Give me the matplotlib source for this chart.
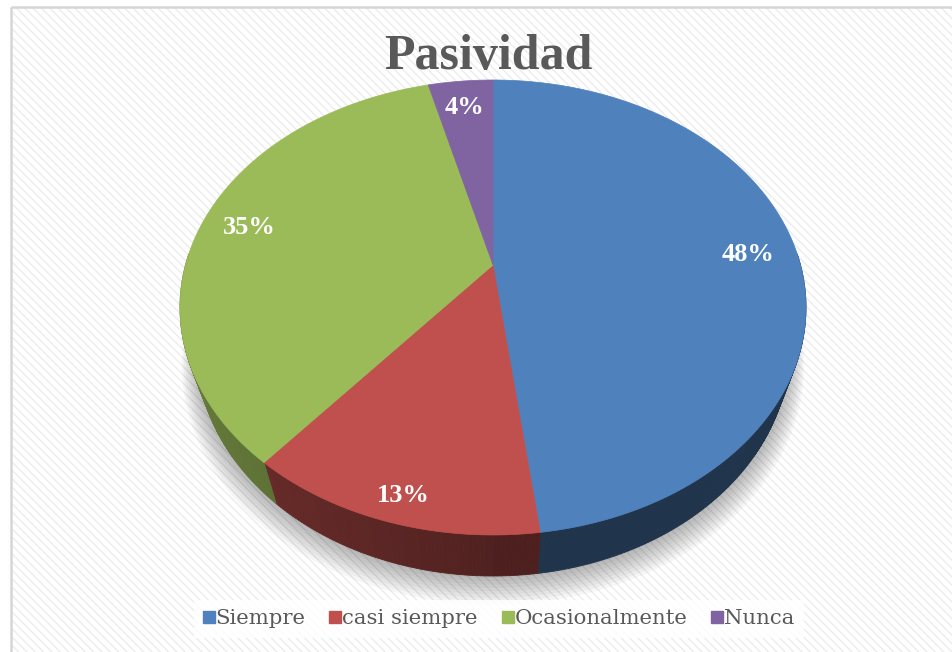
import numpy as np
import matplotlib.pyplot as plt
from matplotlib.patches import Polygon, Rectangle
from matplotlib.lines import Line2D
import matplotlib.colors as colors

# data
categorias = ['Siempre', 'casi siempre', 'Ocasionalmente', 'Nunca']
valores = [48, 13, 35, 4]
etiquetas = ['48%', '13%', '35%', '4%']
titulo = 'Pasividad'

colores = ['#4F81BD', '#C0504D', '#9BBB59', '#8064A2']

W, H = 953, 652
fig = plt.figure(figsize=(W / 100, H / 100), dpi=100)
ax = fig.add_axes([0, 0, 1, 1])
ax.set_xlim(0, W)
ax.set_ylim(H, 0)
ax.axis('off')

# background with diagonal stripes
plt.rcParams['hatch.linewidth'] = 1.0
ax.add_patch(Rectangle((11, 7), W, H, facecolor='white', edgecolor='#ececec',
                       hatch='\\\\\\\\', lw=0, zorder=0))
ax.add_patch(Rectangle((11, 7), W, H, facecolor='none', edgecolor='#d6d6d6',
                       lw=1.8, zorder=0.5))

# perspective pie geometry (pixel space)
CX, CY = 493, 265
C = 0.1868
A = -170.05
DX = 307.5
DEP = 41.0      # thickness of the pie on screen
SHRINK = 0.947  # bottom rim is a bit narrower than the top one


def proj(r, th):
    u = r * np.cos(th)
    v = r * np.sin(th)
    w = 1 + C * v
    return CX + DX * u / w, (A * v + CY) / w


def proj_bottom(r, th, extra=0.0):
    x, y = proj(r, th)
    return CX + (x - CX) * SHRINK, y + DEP + extra


total = float(sum(valores))
ang = [np.pi / 2]
for v in valores:
    ang.append(ang[-1] - 2 * np.pi * v / total)

# soft shadow under the pie
tt = np.linspace(0, 2 * np.pi, 300)
for k in range(9):
    xs, ys = proj_bottom(1.0 + 0.006 * k, tt, 2 + 1.3 * k)
    ax.add_patch(Polygon(np.column_stack([xs, ys]), closed=True,
                         facecolor='#000000', edgecolor='none', alpha=0.035,
                         zorder=1))

# sides
for i in range(len(valores)):
    t = np.linspace(ang[i], ang[i + 1], max(int(abs(ang[i + 1] - ang[i]) * 90), 3))
    base = np.array(colors.to_rgb(colores[i]))
    for j in range(len(t) - 1):
        th = 0.5 * (t[j] + t[j + 1])
        if np.sin(th) > 0.05:
            continue
        c = np.cos(th)
        f = 0.41 + 0.17 * np.clip(-c, 0, 1) ** 0.8
        if c > 0:
            f = 0.40
        if i == 2:
            f += 0.08
        x1, y1 = proj(1, t[j])
        x2, y2 = proj(1, t[j + 1])
        x3, y3 = proj_bottom(1, t[j + 1])
        x4, y4 = proj_bottom(1, t[j])
        ax.add_patch(Polygon([[x1, y1], [x2, y2], [x3, y3], [x4, y4]],
                             closed=True, facecolor=base * f, edgecolor=base * f,
                             lw=0.6, zorder=2))

# top faces
for i in range(len(valores)):
    t = np.linspace(ang[i], ang[i + 1], 200)
    xs, ys = proj(1, t)
    pts = np.vstack([[CX, CY], np.column_stack([xs, ys])])
    ax.add_patch(Polygon(pts, closed=True, facecolor=colores[i],
                         edgecolor=colores[i], lw=0.5, zorder=3))

# data labels
lab_r = [0.84, 0.91, 0.84, 0.84]
for i, txt in enumerate(etiquetas):
    mid = 0.5 * (ang[i] + ang[i + 1])
    lx, ly = proj(lab_r[i], mid)
    ax.text(lx + (4 if i == 1 else 0), ly + 1, txt, ha='center', va='center',
            color='white', fontsize=19, fontweight='bold',
            family='Liberation Serif', zorder=5)

# title
ax.text(488, 57, titulo, ha='center', va='center', color='#595959',
        fontsize=36, fontweight='bold', family='Liberation Serif', zorder=5)

# legend
handles = [Line2D([], [], marker='s', linestyle='none', markersize=9,
                  markerfacecolor=c, markeredgecolor=c) for c in colores]
leg = fig.legend(handles, categorias, loc='center', ncol=4,
                 bbox_to_anchor=(499 / W, 1 - 619 / H), frameon=True,
                 prop={'family': 'DejaVu Serif', 'size': 15.3},
                 handlelength=0.5, handletextpad=0.08, columnspacing=1.15,
                 borderpad=0.45, fancybox=False)
leg.get_frame().set_facecolor('white')
leg.get_frame().set_edgecolor('none')
leg.get_frame().set_alpha(0.85)
for t in leg.get_texts():
    t.set_color('#595959')

plt.savefig('out.png', dpi=100)
